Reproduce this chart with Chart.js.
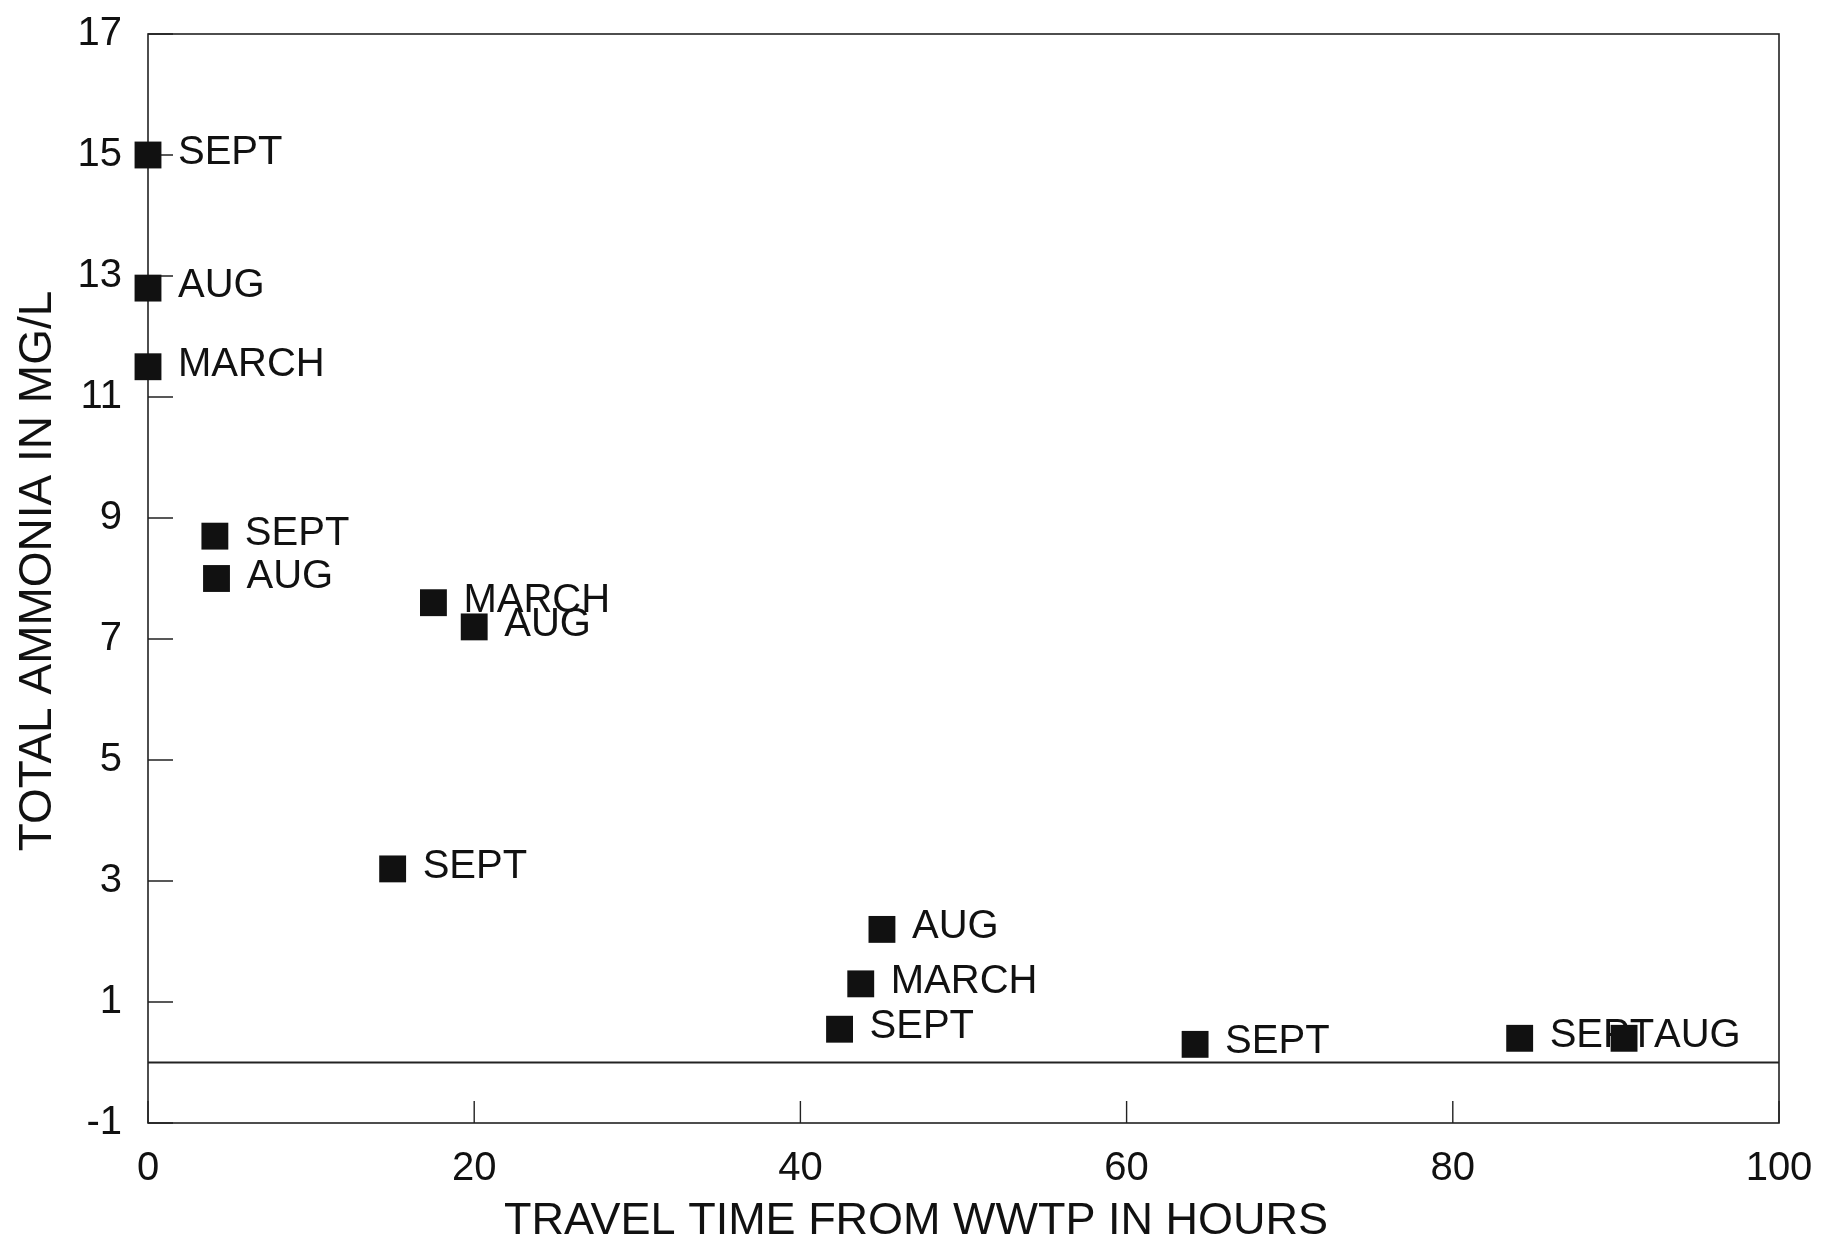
<!DOCTYPE html>
<html>
<head>
<meta charset="utf-8">
<title>Total ammonia vs travel time</title>
<script src="https://cdn.jsdelivr.net/npm/chart.js@4.4.0/dist/chart.umd.min.js"></script>
<style>
  html, body { margin: 0; padding: 0; background: #fff; }
  #wrap { width: 1829px; height: 1242px; }
</style>
</head>
<body>
<div id="wrap"><canvas id="ammonia-chart" width="1829" height="1242"></canvas></div>
<script>
// sampling runs downstream of the WWTP
const travelHours = [0, 0, 0, 4.1, 4.2, 17.5, 20.0, 15.0, 45.0, 43.7, 42.4, 64.2, 84.1, 90.5];
const totalAmmonia = [15.0, 12.8, 11.5, 8.7, 8.0, 7.6, 7.2, 3.2, 2.2, 1.3, 0.55, 0.3, 0.4, 0.4];
const runMonths = ['SEPT', 'AUG', 'MARCH', 'SEPT', 'AUG', 'MARCH', 'AUG', 'SEPT', 'AUG', 'MARCH', 'SEPT', 'SEPT', 'SEPT', 'AUG'];

const xTicks = [0, 20, 40, 60, 80, 100];
const yTicks = [-1, 1, 3, 5, 7, 9, 11, 13, 15, 17];

const FONT = '"Liberation Sans", Arial, sans-serif';
const INK = '#111';

// frame, inward tick marks and the zero line
const framePlugin = {
  id: 'frame',
  beforeDatasetsDraw(chart) {
    const {ctx, chartArea: a, scales: {x, y}} = chart;
    ctx.save();
    ctx.strokeStyle = '#222';
    ctx.lineWidth = 1.6;
    ctx.strokeRect(a.left, a.top, a.right - a.left, a.bottom - a.top);

    ctx.lineWidth = 1.4;
    ctx.beginPath();
    yTicks.forEach(v => {
      const py = y.getPixelForValue(v);
      ctx.moveTo(a.left, py);
      ctx.lineTo(a.left + 25, py);
    });
    xTicks.forEach(v => {
      const px = x.getPixelForValue(v);
      ctx.moveTo(px, a.bottom);
      ctx.lineTo(px, a.bottom - 22);
    });
    ctx.stroke();

    ctx.lineWidth = 1.8;
    const zy = y.getPixelForValue(0);
    ctx.beginPath();
    ctx.moveTo(a.left, zy);
    ctx.lineTo(a.right, zy);
    ctx.stroke();

    // month names next to each marker, under the markers
    const meta = chart.getDatasetMeta(0);
    ctx.fillStyle = INK;
    ctx.font = '40px ' + FONT;
    ctx.textAlign = 'left';
    ctx.textBaseline = 'middle';
    meta.data.forEach((pt, i) => {
      ctx.fillText(runMonths[i], pt.x + 30, pt.y - 2);
    });
    ctx.restore();
  }
};

// axis titles
const titlePlugin = {
  id: 'axisTitles',
  afterDraw(chart) {
    const {ctx} = chart;
    ctx.save();
    ctx.fillStyle = INK;
    ctx.textAlign = 'center';
    ctx.textBaseline = 'middle';
    ctx.font = '45px ' + FONT;
    ctx.fillText('TRAVEL TIME FROM WWTP IN HOURS', 916, 1222);
    ctx.translate(38, 571);
    ctx.rotate(-Math.PI / 2);
    ctx.font = '46px ' + FONT;
    ctx.fillText('TOTAL AMMONIA IN MG/L', 0, 0);
    ctx.restore();
  }
};

const ctx = document.getElementById('ammonia-chart').getContext('2d');
const ammoniaChart = new Chart(ctx, {
  type: 'scatter',
  data: {
    datasets: [{
      label: 'Total ammonia',
      data: travelHours.map((h, i) => ({x: h, y: totalAmmonia[i]})),
      pointStyle: 'rect',
      pointRadius: 19,
      pointHoverRadius: 19,
      backgroundColor: '#111',
      borderColor: '#111',
      borderWidth: 0,
      clip: false
    }]
  },
  options: {
    responsive: false,
    animation: false,
    devicePixelRatio: 1,
    layout: {padding: {top: 34, right: 50, bottom: 0, left: 0}},
    plugins: {
      legend: {display: false},
      tooltip: {enabled: false}
    },
    scales: {
      x: {
        type: 'linear',
        min: 0,
        max: 100,
        afterBuildTicks: scale => { scale.ticks = xTicks.map(v => ({value: v})); },
        afterFit: scale => {
          scale.height = 119;
          scale.paddingLeft = 0;
          scale.paddingRight = 0;
        },
        grid: {display: false, drawTicks: false},
        border: {display: false},
        ticks: {color: INK, font: {family: FONT, size: 40}, padding: 22, maxRotation: 0}
      },
      y: {
        type: 'linear',
        min: -1,
        max: 17,
        afterBuildTicks: scale => { scale.ticks = yTicks.map(v => ({value: v})); },
        afterFit: scale => {
          scale.width = 148;
          scale.paddingTop = 0;
          scale.paddingBottom = 0;
        },
        grid: {display: false, drawTicks: false},
        border: {display: false},
        ticks: {color: INK, font: {family: FONT, size: 40}, padding: 26}
      }
    }
  },
  plugins: [framePlugin, titlePlugin]
});
</script>
</body>
</html>
